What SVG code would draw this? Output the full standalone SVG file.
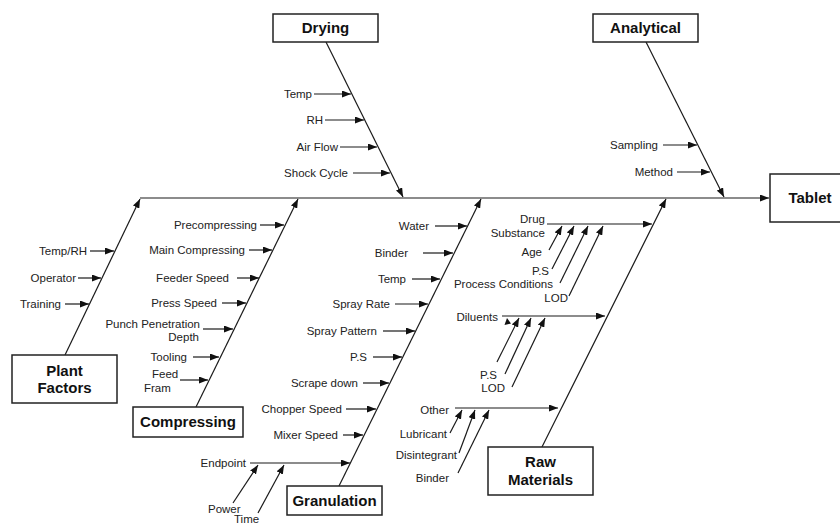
<svg xmlns="http://www.w3.org/2000/svg" width="840" height="525" viewBox="0 0 840 525">
  <style>
    .box { fill: #fff; stroke: #222; stroke-width: 1.5; }
    .head { font-family: "Liberation Sans", Arial, sans-serif; font-size: 15px; font-weight: bold; fill: #111; text-anchor: middle; }
    .lbl { font-family: "Liberation Sans", Arial, sans-serif; font-size: 11.5px; fill: #222; text-anchor: end; }
    .st { text-anchor: start; }
    .ln { stroke: #1a1a1a; stroke-width: 1.2; fill: none; }
    .arr { marker-end: url(#tip); }
    .tri { fill: #111; }
  </style>
  <defs>
    <marker id="tip" markerUnits="userSpaceOnUse" markerWidth="9" markerHeight="7" refX="9" refY="3.5" orient="auto">
      <path d="M0,0 L9,3.5 L0,7 z" fill="#111"/>
    </marker>
  </defs>
  <rect width="840" height="525" fill="#fff"/>

  <!-- connectors: spine, category bones and cause arrows -->
  <g id="connectors">
    <line class="ln arr" x1="140" y1="198" x2="769" y2="198"/>
    <!-- bones -->
    <line class="ln arr" x1="65" y1="355" x2="140" y2="199"/>
    <line class="ln arr" x1="196" y1="407" x2="298" y2="199"/>
    <line class="ln arr" x1="339" y1="486" x2="481" y2="199"/>
    <line class="ln arr" x1="542" y1="447" x2="666" y2="199"/>
    <line class="ln arr" x1="326" y1="42" x2="403" y2="197"/>
    <line class="ln arr" x1="646" y1="42" x2="724" y2="197"/>
    <!-- drying causes -->
    <line class="ln arr" x1="314" y1="94" x2="351" y2="94"/>
    <line class="ln arr" x1="325" y1="120" x2="364" y2="120"/>
    <line class="ln arr" x1="340" y1="147" x2="377" y2="147"/>
    <line class="ln arr" x1="353" y1="173" x2="390" y2="173"/>
    <!-- analytical causes -->
    <line class="ln arr" x1="663" y1="145" x2="697" y2="145"/>
    <line class="ln arr" x1="677" y1="172" x2="710" y2="172"/>
    <!-- plant factor causes -->
    <line class="ln arr" x1="90" y1="251" x2="114" y2="251"/>
    <line class="ln arr" x1="78" y1="278" x2="101" y2="278"/>
    <line class="ln arr" x1="65" y1="304" x2="89" y2="304"/>
    <!-- compressing causes -->
    <line class="ln arr" x1="260" y1="225" x2="284" y2="225"/>
    <line class="ln arr" x1="249" y1="250" x2="272" y2="250"/>
    <line class="ln arr" x1="237" y1="278" x2="259" y2="278"/>
    <line class="ln arr" x1="222" y1="303" x2="246" y2="303"/>
    <line class="ln arr" x1="203" y1="329" x2="233" y2="329"/>
    <line class="ln arr" x1="193" y1="357" x2="219" y2="357"/>
    <line class="ln arr" x1="180" y1="380" x2="208" y2="380"/>
    <!-- granulation causes -->
    <line class="ln arr" x1="435" y1="226" x2="467" y2="226"/>
    <line class="ln arr" x1="423" y1="253" x2="453" y2="253"/>
    <line class="ln arr" x1="412" y1="279" x2="440" y2="279"/>
    <line class="ln arr" x1="395" y1="304" x2="428" y2="304"/>
    <line class="ln arr" x1="383" y1="331" x2="415" y2="331"/>
    <line class="ln arr" x1="373" y1="357" x2="402" y2="357"/>
    <line class="ln arr" x1="363" y1="383" x2="389" y2="383"/>
    <line class="ln arr" x1="346" y1="409" x2="376" y2="409"/>
    <line class="ln arr" x1="343" y1="435" x2="363" y2="435"/>
    <line class="ln arr" x1="250" y1="463" x2="350" y2="463"/>
    <line class="ln arr" x1="233" y1="503" x2="258" y2="465"/>
    <line class="ln arr" x1="258" y1="513" x2="284" y2="465"/>
    <!-- raw material causes -->
    <line class="ln arr" x1="547" y1="224" x2="652" y2="224"/>
    <line class="ln arr" x1="549" y1="250" x2="562" y2="226"/>
    <line class="ln arr" x1="552" y1="269" x2="574" y2="226"/>
    <line class="ln arr" x1="560" y1="283" x2="588" y2="226"/>
    <line class="ln arr" x1="569" y1="296" x2="603" y2="226"/>
    <line class="ln arr" x1="502" y1="316" x2="605" y2="316"/>
    <path class="tri" d="M507,318 L504.5,325 L511,323.5 z"/>
    <line class="ln arr" x1="497" y1="362" x2="519" y2="318"/>
    <line class="ln arr" x1="505" y1="374" x2="531" y2="318"/>
    <line class="ln arr" x1="512" y1="387" x2="545" y2="318"/>
    <line class="ln arr" x1="455" y1="408" x2="558" y2="408"/>
    <line class="ln arr" x1="450" y1="433" x2="462" y2="410"/>
    <line class="ln arr" x1="459" y1="453" x2="475" y2="410"/>
    <line class="ln arr" x1="458" y1="473" x2="489" y2="410"/>
  </g>

  <!-- category nodes -->
  <g id="drying">
    <rect class="box" x="273" y="14" width="105" height="28"/>
    <text class="head" x="325.5" y="33">Drying</text>
  </g>
  <g id="analytical">
    <rect class="box" x="593" y="14" width="105" height="28"/>
    <text class="head" x="645.5" y="33">Analytical</text>
  </g>
  <g id="plant-factors">
    <rect class="box" x="12" y="355" width="105" height="48"/>
    <text class="head" x="64.5" y="376">Plant</text>
    <text class="head" x="64.5" y="393">Factors</text>
  </g>
  <g id="compressing">
    <rect class="box" x="133" y="407" width="110" height="30"/>
    <text class="head" x="188" y="427">Compressing</text>
  </g>
  <g id="granulation">
    <rect class="box" x="287" y="486" width="95" height="29"/>
    <text class="head" x="334.5" y="506">Granulation</text>
  </g>
  <g id="raw-materials">
    <rect class="box" x="488" y="447" width="105" height="48"/>
    <text class="head" x="540.5" y="467">Raw</text>
    <text class="head" x="540.5" y="485">Materials</text>
  </g>
  <g id="tablet">
    <rect class="box" x="770" y="174" width="80" height="48"/>
    <text class="head" x="810" y="203">Tablet</text>
  </g>

  <!-- cause labels -->
  <g id="drying-causes">
    <text class="lbl" x="312" y="98">Temp</text>
    <text class="lbl" x="323" y="124">RH</text>
    <text class="lbl" x="338" y="151">Air Flow</text>
    <text class="lbl" x="348" y="177">Shock Cycle</text>
  </g>
  <g id="analytical-causes">
    <text class="lbl" x="658" y="149">Sampling</text>
    <text class="lbl" x="673" y="176">Method</text>
  </g>
  <g id="plant-causes">
    <text class="lbl" x="87" y="255">Temp/RH</text>
    <text class="lbl" x="76" y="282">Operator</text>
    <text class="lbl" x="61" y="308">Training</text>
  </g>
  <g id="compressing-causes">
    <text class="lbl" x="257" y="229">Precompressing</text>
    <text class="lbl" x="245" y="254">Main Compressing</text>
    <text class="lbl" x="229" y="282">Feeder Speed</text>
    <text class="lbl" x="217" y="307">Press Speed</text>
    <text class="lbl" x="200" y="328">Punch Penetration</text>
    <text class="lbl" x="199" y="341">Depth</text>
    <text class="lbl" x="187" y="361">Tooling</text>
    <text class="lbl st" x="152" y="378">Feed</text>
    <text class="lbl st" x="144" y="392">Fram</text>
  </g>
  <g id="granulation-causes">
    <text class="lbl" x="429" y="230">Water</text>
    <text class="lbl" x="408" y="257">Binder</text>
    <text class="lbl" x="406" y="283">Temp</text>
    <text class="lbl" x="390" y="308">Spray Rate</text>
    <text class="lbl" x="377" y="335">Spray Pattern</text>
    <text class="lbl" x="367" y="361">P.S</text>
    <text class="lbl" x="358" y="387">Scrape down</text>
    <text class="lbl" x="342" y="413">Chopper Speed</text>
    <text class="lbl" x="338" y="439">Mixer Speed</text>
    <text class="lbl" x="246" y="467">Endpoint</text>
    <text class="lbl st" x="208" y="513">Power</text>
    <text class="lbl st" x="234" y="523">Time</text>
  </g>
  <g id="raw-material-causes">
    <text class="lbl" x="545" y="223">Drug</text>
    <text class="lbl" x="545" y="237">Substance</text>
    <text class="lbl" x="542" y="256">Age</text>
    <text class="lbl" x="549" y="275">P.S</text>
    <text class="lbl" x="553" y="288">Process Conditions</text>
    <text class="lbl" x="568" y="302">LOD</text>
    <text class="lbl" x="498" y="321">Diluents</text>
    <text class="lbl" x="497" y="379">P.S</text>
    <text class="lbl" x="505" y="392">LOD</text>
    <text class="lbl" x="449" y="414">Other</text>
    <text class="lbl" x="447" y="438">Lubricant</text>
    <text class="lbl" x="457" y="459">Disintegrant</text>
    <text class="lbl" x="449" y="482">Binder</text>
  </g>
</svg>
